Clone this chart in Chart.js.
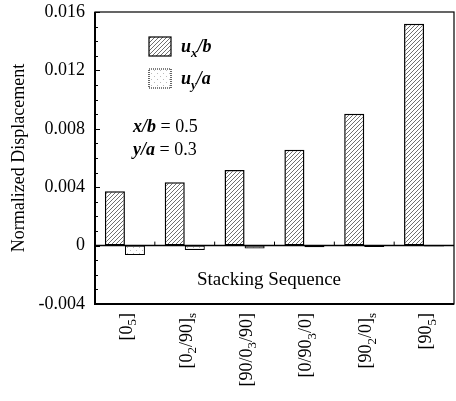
<!DOCTYPE html>
<html>
<head>
<meta charset="utf-8">
<script src="https://cdn.jsdelivr.net/npm/chart.js@4/dist/chart.umd.min.js"></script>
<style>
  html, body { margin: 0; padding: 0; background: #fff; }
  #wrap { width: 456px; height: 401px; }
</style>
</head>
<body>
<div id="wrap"><canvas id="chart-bar"></canvas></div>
<script>
// данные графика
const categories = ["[0_5]", "[0_2/90]_s", "[90/0_3/90]", "[0/90_3/0]", "[90_2/0]_s", "[90_5]"];
const uxbValues = [0.00372, 0.00434, 0.00517, 0.00657, 0.00903, 0.0152];
const uyaValues = [-0.00065, -0.0003, -0.0002, -0.00012, -0.0001, -0.00006];
const yTickValues = [-0.004, 0, 0.004, 0.008, 0.012, 0.016];
const yTickLabels = ["-0.004", "0", "0.004", "0.008", "0.012", "0.016"];

const SERIF = "'Liberation Serif', 'DejaVu Serif', serif";

// штриховка для u_x/b
function hatchPattern() {
  const c = document.createElement("canvas");
  c.width = 4;
  c.height = 4;
  const g = c.getContext("2d");
  g.fillStyle = "#fff";
  g.fillRect(0, 0, 4, 4);
  g.strokeStyle = "#707070";
  g.lineWidth = 1;
  g.beginPath();
  g.moveTo(-1, 5);
  g.lineTo(5, -1);
  g.moveTo(-1, 1);
  g.lineTo(1, -1);
  g.moveTo(3, 5);
  g.lineTo(5, 3);
  g.stroke();
  return g.createPattern(c, "repeat");
}

// точечная заливка для u_y/a
function dotPattern() {
  const c = document.createElement("canvas");
  c.width = 6;
  c.height = 6;
  const g = c.getContext("2d");
  g.fillStyle = "#fff";
  g.fillRect(0, 0, 6, 6);
  g.fillStyle = "#bbb";
  g.fillRect(1, 1, 1, 1);
  g.fillRect(4, 4, 1, 1);
  return g.createPattern(c, "repeat");
}

// текст с нижними индексами: "_x" -> x как индекс
function drawRich(ctx, text, x, y, size, style) {
  const parts = [];
  for (let i = 0; i < text.length; i++) {
    if (text[i] === "_" && i + 1 < text.length) {
      parts.push({ t: text[i + 1], sub: true });
      i++;
    } else {
      parts.push({ t: text[i], sub: false });
    }
  }
  let cx = x;
  parts.forEach((p) => {
    const s = p.sub ? Math.round(size * 0.7) : size;
    ctx.font = `${style} ${s}px ${SERIF}`;
    ctx.fillText(p.t, cx, p.sub ? y + size * 0.25 : y);
    cx += ctx.measureText(p.t).width;
  });
  return cx - x;
}

function richWidth(ctx, text, size, style) {
  let w = 0;
  for (let i = 0; i < text.length; i++) {
    let ch = text[i];
    let s = size;
    if (ch === "_" && i + 1 < text.length) {
      ch = text[i + 1];
      s = Math.round(size * 0.7);
      i++;
    }
    ctx.font = `${style} ${s}px ${SERIF}`;
    w += ctx.measureText(ch).width;
  }
  return w;
}

// рамка, нулевая линия, засечки, подписи
const decorPlugin = {
  id: "decorPlugin",
  afterDatasetsDraw(chart) {
    const { ctx, chartArea: a, scales } = chart;
    const y = scales.y;
    const x = scales.x;
    ctx.save();
    ctx.strokeStyle = "#000";

    // нулевая линия
    const y0 = y.getPixelForValue(0);
    ctx.lineWidth = 1.5;
    ctx.beginPath();
    ctx.moveTo(a.left, y0);
    ctx.lineTo(a.right, y0);
    ctx.stroke();

    // засечки на нулевой линии между категориями
    ctx.lineWidth = 1;
    ctx.beginPath();
    for (let i = 1; i < categories.length; i++) {
      const px = (x.getPixelForValue(i - 1) + x.getPixelForValue(i)) / 2;
      ctx.moveTo(px, y0);
      ctx.lineTo(px, y0 - 4);
    }
    ctx.stroke();

    // засечки на оси Y (внутрь)
    ctx.beginPath();
    for (let v = -4; v <= 16; v++) {
      const py = Math.round(y.getPixelForValue(v / 1000)) + 0.5;
      const len = v % 4 === 0 ? 5 : 3;
      ctx.moveTo(a.left, py);
      ctx.lineTo(a.left + len, py);
    }
    ctx.stroke();

    // рамка
    ctx.lineWidth = 1.2;
    ctx.strokeRect(a.left, a.top, a.right - a.left, a.bottom - a.top);
    ctx.lineWidth = 2;
    ctx.beginPath();
    ctx.moveTo(a.left, a.top);
    ctx.lineTo(a.left, a.bottom);
    ctx.lineTo(a.right, a.bottom);
    ctx.stroke();

    ctx.fillStyle = "#000";
    ctx.textBaseline = "alphabetic";

    // легенда
    const boxes = [
      { fill: chart.data.datasets[0].backgroundColor, label: "u_x/b", top: 37, dash: [] },
      { fill: chart.data.datasets[1].backgroundColor, label: "u_y/a", top: 69, dash: [1, 1] },
    ];
    boxes.forEach((b) => {
      ctx.fillStyle = b.fill;
      ctx.fillRect(149, b.top, 22, 19);
      ctx.setLineDash(b.dash);
      ctx.lineWidth = 1.2;
      ctx.strokeRect(149, b.top, 22, 19);
      ctx.setLineDash([]);
      ctx.fillStyle = "#000";
      drawRich(ctx, b.label, 181, b.top + 15, 18, "italic bold");
    });

    // параметры
    ctx.font = `italic bold 18px ${SERIF}`;
    ctx.fillText("x/b", 133, 132);
    let w = ctx.measureText("x/b").width;
    ctx.font = `18px ${SERIF}`;
    ctx.fillText(" = 0.5", 133 + w, 132);
    ctx.font = `italic bold 18px ${SERIF}`;
    ctx.fillText("y/a", 133, 155);
    w = ctx.measureText("y/a").width;
    ctx.font = `18px ${SERIF}`;
    ctx.fillText(" = 0.3", 133 + w, 155);

    // подпись оси X внутри графика
    ctx.font = `19px ${SERIF}`;
    ctx.textAlign = "center";
    ctx.fillText("Stacking Sequence", 269, 285);
    ctx.textAlign = "left";

    // повернутые подписи категорий
    categories.forEach((c, i) => {
      const px = x.getPixelForValue(i);
      const tw = richWidth(ctx, c, 18, "");
      ctx.save();
      ctx.translate(px + 7, 313);
      ctx.rotate(-Math.PI / 2);
      drawRich(ctx, c, -tw, 0, 18, "");
      ctx.restore();
    });

    ctx.restore();
  },
};

const hatch = hatchPattern();
const dots = dotPattern();

new Chart(document.getElementById("chart-bar").getContext("2d"), {
  type: "bar",
  data: {
    labels: categories,
    datasets: [
      {
        label: "u_x/b",
        data: uxbValues,
        backgroundColor: hatch,
        borderColor: "#000",
        borderWidth: 1.5,
        borderSkipped: false,
      },
      {
        label: "u_y/a",
        data: uyaValues,
        backgroundColor: dots,
        borderColor: "#000",
        borderWidth: 1.2,
        borderSkipped: false,
      },
    ],
  },
  plugins: [decorPlugin],
  options: {
    responsive: true,
    maintainAspectRatio: false,
    animation: false,
    categoryPercentage: 0.67,
    barPercentage: 1.0,
    layout: { padding: { top: 12, right: 2, left: 8, bottom: 0 } },
    scales: {
      x: {
        grid: { display: false },
        border: { display: false },
        ticks: { display: false },
        afterFit(scale) {
          scale.height = 97;
        },
      },
      y: {
        min: -0.004,
        max: 0.016,
        afterBuildTicks(scale) {
          scale.ticks = yTickValues.map((v) => ({ value: v }));
        },
        ticks: {
          color: "#000",
          font: { family: SERIF, size: 18 },
          padding: 2,
          callback: (value) => {
            const i = yTickValues.findIndex((v) => Math.abs(v - value) < 1e-9);
            return i >= 0 ? yTickLabels[i] : "";
          },
        },
        grid: { display: false },
        border: { display: false },
        title: {
          display: true,
          text: "Normalized Displacement",
          color: "#000",
          font: { family: SERIF, size: 18 },
          padding: { top: 0, bottom: 0 },
        },
        afterFit(scale) {
          scale.width = 87;
          scale.paddingTop = 0;
          scale.paddingBottom = 0;
        },
      },
    },
    plugins: {
      legend: { display: false },
      tooltip: { enabled: false },
    },
  },
});
</script>
</body>
</html>
